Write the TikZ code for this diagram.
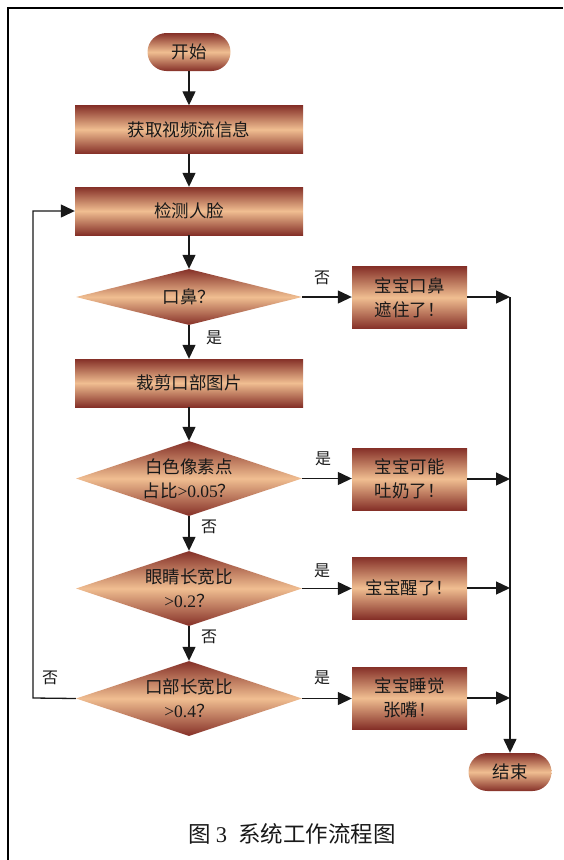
\documentclass[tikz,border=0pt]{standalone}
\usepackage{fontspec}
\setmainfont{Liberation Serif}
\newfontfamily\cjk{Noto Sans CJK SC}
\usetikzlibrary{shapes.geometric,arrows.meta}
\definecolor{dk}{RGB}{133,48,40}
\definecolor{lt}{RGB}{240,190,145}
\definecolor{ink}{RGB}{25,25,25}
\newcommand\lat[1]{{\rmfamily #1}}
\begin{document}
\begin{tikzpicture}[x=1pt,y=-1pt,
  grad/.style={top color=dk,bottom color=dk,middle color=lt},
  txt/.style={text=ink,font=\cjk\fontsize{17.5}{24}\selectfont,align=center,inner sep=0pt},
  procbox/.style={grad,txt,rectangle,minimum width=228pt,minimum height=48pt},
  outbox/.style={grad,txt,rectangle,minimum width=115pt,minimum height=62pt},
  term/.style={grad,txt,rectangle,rounded corners=19pt,minimum width=83pt,minimum height=38pt},
  decbox/.style={grad,diamond,inner sep=0pt,minimum width=226pt,minimum height=75pt},
  lbl/.style={text=ink,font=\cjk\fontsize{16}{18}\selectfont,inner sep=0pt},
  arr/.style={line width=1.3pt,draw=ink,-{Triangle[length=14pt,width=13pt]}},
  ln/.style={line width=1.3pt,draw=ink}
]
\useasboundingbox (0,0) rectangle (563,860);
\draw[line width=1.2pt] (8,860) -- (8,8) -- (563,8);

% main column
\node[term] (start) at (189,52) {开始};
\node[procbox] (get) at (189,129.5) {获取视频流信息};
\node[procbox] (det) at (189,211) {检测人脸};
\node[decbox,minimum height=56pt] (d1) at (189,297) {};
\node[txt] (t1) at (d1) {口鼻？};
\node[procbox] (crop) at (189,383) {裁剪口部图片};
\node[decbox] (d2) at (189,478.5) {};
\node[txt] (t2) at (d2) {白色像素点\\占比\lat{>0.05}？};
\node[decbox] (d3) at (189,588.5) {};
\node[txt] (t3) at (d3) {眼睛长宽比\\\lat{>0.2}？};
\node[decbox] (d4) at (189,698.5) {};
\node[txt] (t4) at (d4) {口部长宽比\\\lat{>0.4}？};

% outputs
\node[outbox] (o1) at (409.5,297.5) {宝宝口鼻\\遮住了！};
\node[outbox] (o2) at (409.5,479) {宝宝可能\\吐奶了！};
\node[outbox] (o3) at (409.5,588) {宝宝醒了！};
\node[outbox] (o4) at (409.5,698) {宝宝睡觉\\张嘴！};
\node[term] (end) at (510,772) {结束};

\coordinate (r1) at (510,297);
\coordinate (r2) at (510,479);
\coordinate (r3) at (510,588);
\coordinate (r4) at (510,698);
\coordinate (lp) at (33,698);

\draw[arr] (start) -- (get);
\draw[arr] (get) -- (det);
\draw[arr] (det) -- (d1);
\draw[arr] (d1) -- (crop);
\draw[arr] (crop) -- (d2);
\draw[arr] (d2) -- (d3);
\draw[arr] (d3) -- (d4);
\draw[arr] (d1.east) -- (o1.west |- d1.east);
\draw[arr] (d2.east) -- (o2.west |- d2.east);
\draw[arr] (d3.east) -- (o3.west |- d3.east);
\draw[arr] (d4.east) -- (o4.west |- d4.east);
\draw[arr] (o1.east |- r1) -- (r1);
\draw[arr] (o2.east |- r2) -- (r2);
\draw[arr] (o3.east |- r3) -- (r3);
\draw[arr] (o4.east |- r4) -- (r4);
\draw[arr] (r1) -- (end.north);
\draw[arr] (d4.west) -- (lp) |- (det.west);

% labels
\node[lbl] (l1) at (322,278) {否};
\node[lbl] (l2) at (214,338) {是};
\node[lbl] (l3) at (323,459) {是};
\node[lbl] (l4) at (209,527) {否};
\node[lbl] (l5) at (322,571) {是};
\node[lbl] (l6) at (209,637) {否};
\node[lbl] (l7) at (322,678) {是};
\node[lbl] (l8) at (50,678) {否};

\node[text=ink,font=\cjk\fontsize{22.5}{24}\selectfont,inner sep=0pt] (cap) at (292,834) {图 \lat{3}\enspace 系统工作流程图};
\end{tikzpicture}
\end{document}
